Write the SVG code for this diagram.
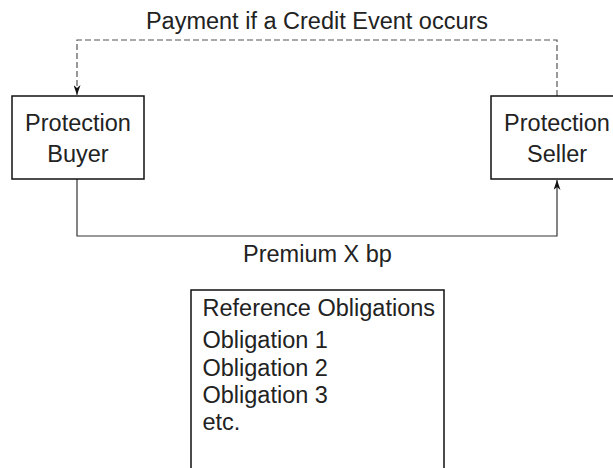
<svg xmlns="http://www.w3.org/2000/svg" width="613" height="468" viewBox="0 0 613 468">
<defs>
<style>
text{font-family:"Liberation Sans",Arial,Helvetica,sans-serif;font-size:23.5px;fill:#222}
.c{text-anchor:middle}
.box{fill:#fff;stroke:#111;stroke-width:1.5}
.conn{fill:none;stroke:#333;stroke-width:1.2}
.dash{stroke-dasharray:6,3;stroke:#555}
</style>
<marker id="ah" viewBox="0 0 10 10" refX="10" refY="5" markerWidth="10" markerHeight="7" markerUnits="userSpaceOnUse" orient="auto" preserveAspectRatio="none">
<path d="M0,0 L10,5 L0,10 L3,5 Z" fill="#111"/>
</marker>
</defs>
<g id="connectors">
<path class="conn dash" d="M557,96 V40 H77 V95" marker-end="url(#ah)"/>
<path class="conn" d="M77,179 V236 H557 V180" marker-end="url(#ah)"/>
<text class="c" x="317" y="29">Payment if a Credit Event occurs</text>
<text class="c" x="317.5" y="262">Premium X bp</text>
</g>
<g id="buyer">
<rect class="box" x="12" y="96" width="132" height="83"/>
<text class="c" x="78" y="131">Protection</text>
<text class="c" x="78" y="162">Buyer</text>
</g>
<g id="seller">
<rect class="box" x="491" y="96" width="132" height="83"/>
<text class="c" x="557" y="131">Protection</text>
<text class="c" x="557" y="162">Seller</text>
</g>
<g id="reference">
<path class="box" d="M191,470 V290 H444 V470"/>
<text x="202.5" y="316">Reference Obligations</text>
<text x="202.5" y="348">Obligation 1</text>
<text x="202.5" y="375.5">Obligation 2</text>
<text x="202.5" y="403">Obligation 3</text>
<text x="202.5" y="430">etc.</text>
</g>
</svg>
